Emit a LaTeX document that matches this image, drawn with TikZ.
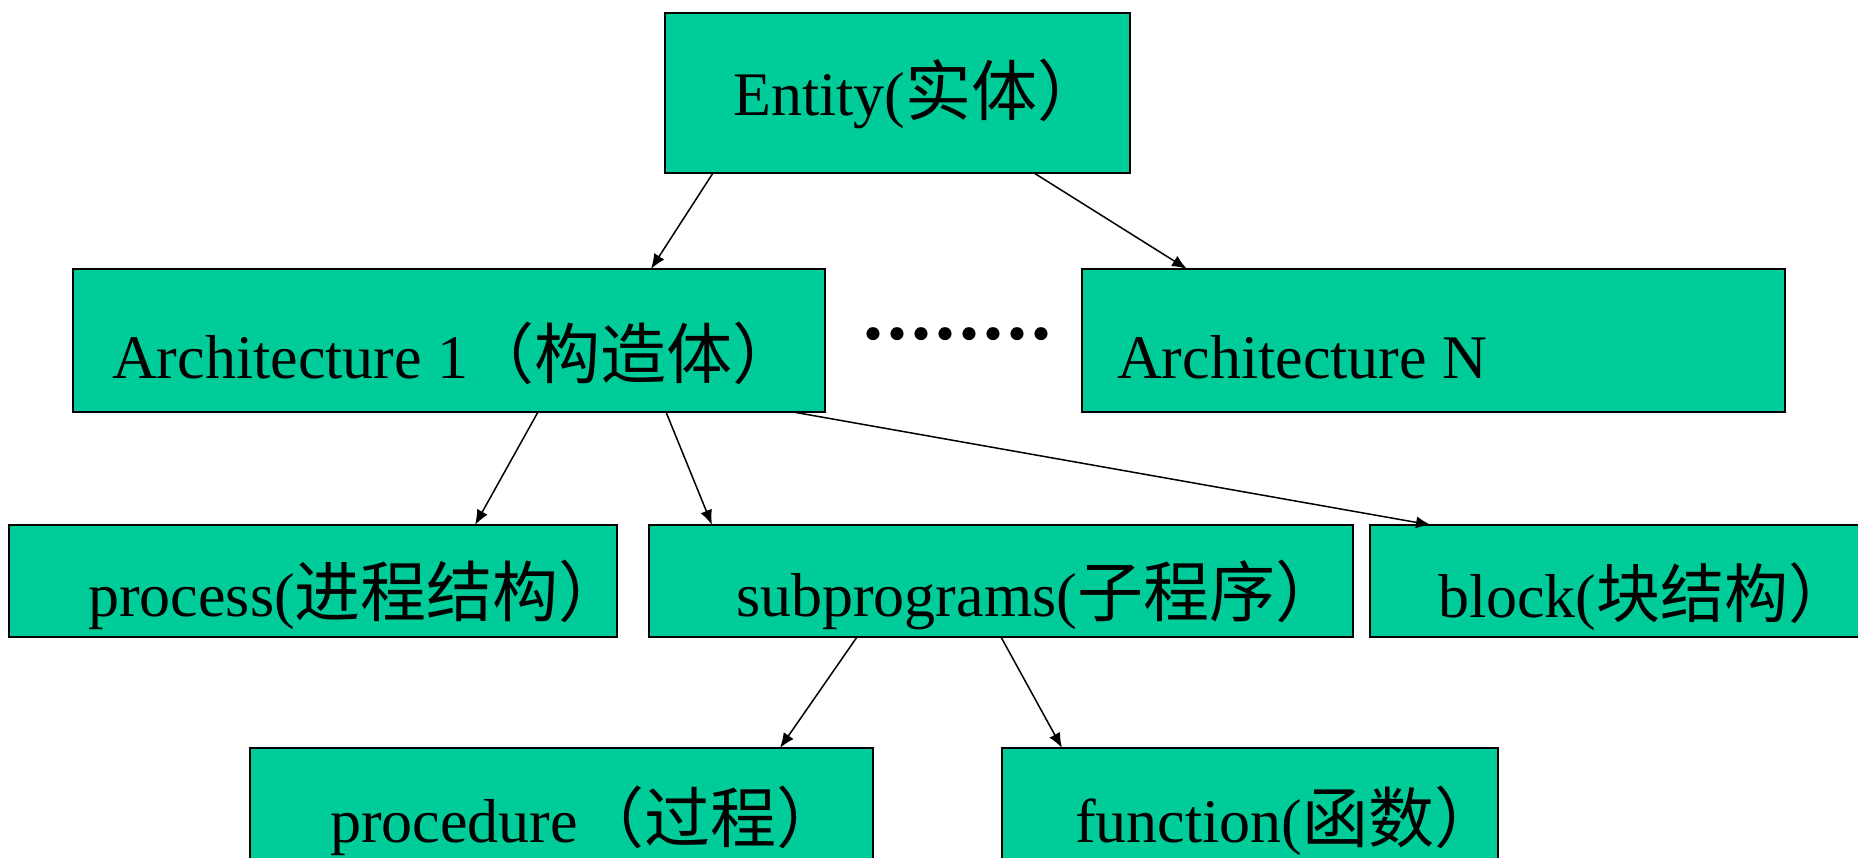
\documentclass[tikz,border=0pt]{standalone}
\usepackage{fontspec}
\setmainfont{Liberation Serif}
\newfontfamily\cjk{Noto Sans CJK SC}
\usetikzlibrary{arrows.meta}
\definecolor{boxgreen}{RGB}{0,204,153}
\newcommand\zh[2][66]{{\cjk\fontsize{#1}{70}\selectfont #2}}
\newcommand\gapdot{.\kern4pt}

\begin{document}
\begin{tikzpicture}[x=1pt,y=-1pt,
  box/.style={draw=black, line width=2.5pt, fill=boxgreen, rectangle,
    inner sep=0pt, outer sep=0pt, anchor=north west},
  lbl/.style={anchor=base west, inner sep=0pt, font=\fontsize{62}{70}\selectfont},
  arr/.style={line width=1.5pt, -{Latex[length=15pt,width=12pt]}}]

\useasboundingbox (0,0) rectangle (1858,858);
\fill[white] (0,0) rectangle (1858,858);
\clip (0,0) rectangle (1858,858);

% boxes
\node[box, minimum width=465pt, minimum height=160pt] (ent)  at (665,13)  {};
\node[box, minimum width=752pt, minimum height=143pt] (a1)   at (73,269)  {};
\node[box, minimum width=703pt, minimum height=143pt] (aN)   at (1082,269) {};
\node[box, minimum width=608pt, minimum height=112pt] (proc) at (9,525)   {};
\node[box, minimum width=704pt, minimum height=112pt] (sub)  at (649,525) {};
\node[box, minimum width=510pt, minimum height=112pt] (blk)  at (1370,525) {};
\node[box, minimum width=623pt, minimum height=132pt] (pcd)  at (250,748) {};
\node[box, minimum width=496pt, minimum height=132pt] (fun)  at (1002,748) {};

% labels
\node[lbl] (tEnt)  at (733,116)  {Entity(\zh{实体）}};
\node[lbl] (tA1)   at (112,379)  {Architecture 1\zh{（构造体）}};
\node[lbl] (tAN)   at (1117,379) {Architecture N};
\node[lbl] (tProc) at (88,616)   {process(\zh{进程结构）}};
\node[lbl] (tSub)  at (736,616)  {subprograms(\zh{子程序）}};
\node[lbl] (tBlk)  at (1438,617) {block(\zh[64]{块结构）}};
\node[lbl] (tPcd)  at (330,842)  {procedure\zh{（过程）}};
\node[lbl] (tFun)  at (1075,842) {function(\zh{函数）}};
\node[anchor=center, inner sep=0pt, font=\fontsize{80}{80}\selectfont\bfseries]
  (dots) at (957,334) {\gapdot\gapdot\gapdot\gapdot\gapdot\gapdot\gapdot.};

% connectors
\draw[arr] ([xshift=48pt]ent.south west)  -- ([xshift=578pt]a1.north west);
\draw[arr] ([xshift=369pt]ent.south west) -- ([xshift=105pt]aN.north west);
\draw[arr] ([xshift=465pt]a1.south west)  -- ([xshift=466pt]proc.north west);
\draw[arr] ([xshift=593pt]a1.south west)  -- ([xshift=63pt]sub.north west);
\draw[arr] ([xshift=720pt]a1.south west)  -- ([xshift=61pt]blk.north west);
\draw[arr] ([xshift=208pt]sub.south west) -- ([xshift=530pt]pcd.north west);
\draw[arr] ([xshift=352pt]sub.south west) -- ([xshift=60pt]fun.north west);
\end{tikzpicture}
\end{document}
